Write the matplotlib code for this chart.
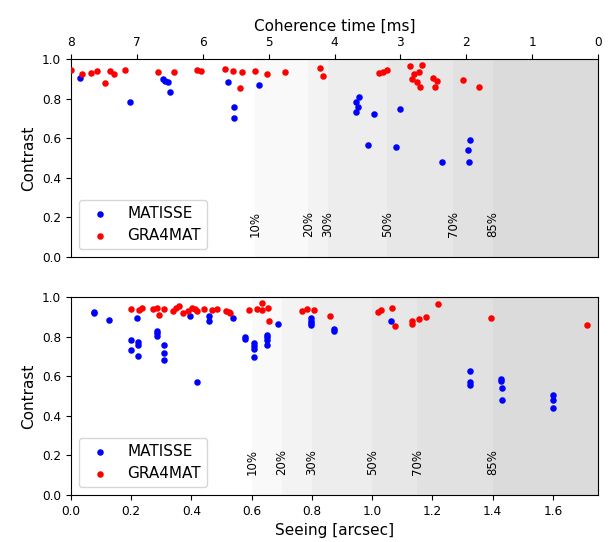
import numpy as np
import matplotlib
matplotlib.use('Agg')
import matplotlib.pyplot as plt

# percentile boundaries of the site statistics
pct_labels = ['10%', '20%', '30%', '50%', '70%', '85%']
tau_pct = [5.2, 4.4, 4.1, 3.2, 2.2, 1.6]
seeing_pct = [0.6, 0.7, 0.8, 1.0, 1.15, 1.4]

# contrast vs coherence time
tau_mat = [7.87, 7.10, 6.60, 6.57, 6.53, 6.49, 5.61, 5.52, 5.53, 5.14,
           3.63, 3.68, 3.64, 3.68, 3.40, 3.00, 3.49, 3.06, 2.37, 1.95, 1.97, 1.96]
c_tau_mat = [0.904, 0.781, 0.900, 0.890, 0.884, 0.832, 0.884, 0.759, 0.703, 0.867,
             0.809, 0.782, 0.756, 0.732, 0.720, 0.747, 0.567, 0.558, 0.481, 0.589, 0.538, 0.481]
tau_gra = [8.0, 7.84, 7.70, 7.60, 7.48, 7.41, 7.34, 7.18, 6.68, 6.43,
           6.08, 6.03, 5.66, 5.54, 5.41, 5.43, 5.20, 5.03, 4.75, 4.22,
           4.17, 3.32, 3.26, 3.20, 2.86, 2.67, 2.80, 2.72, 2.82, 2.75,
           2.71, 2.50, 2.45, 2.48, 2.05, 1.80]
c_tau_gra = [0.944, 0.924, 0.928, 0.941, 0.879, 0.939, 0.926, 0.946, 0.934, 0.933,
             0.944, 0.939, 0.948, 0.939, 0.933, 0.853, 0.939, 0.926, 0.936, 0.953,
             0.916, 0.931, 0.933, 0.944, 0.965, 0.971, 0.924, 0.936, 0.899, 0.882,
             0.857, 0.904, 0.890, 0.860, 0.894, 0.857]

# contrast vs seeing
see_mat = [0.075, 0.075, 0.127, 0.2, 0.2, 0.219, 0.224, 0.224, 0.224,
           0.286, 0.286, 0.286, 0.309, 0.309, 0.309, 0.396, 0.418, 0.458, 0.458,
           0.538, 0.579, 0.579, 0.607, 0.607, 0.607, 0.607, 0.652, 0.652, 0.652, 0.652,
           0.686, 0.796, 0.796, 0.796, 0.796, 0.874, 0.874, 1.063,
           1.326, 1.326, 1.326, 1.428, 1.428, 1.432, 1.432, 1.6, 1.6, 1.6]
c_see_mat = [0.926, 0.917, 0.885, 0.782, 0.730, 0.892, 0.771, 0.757, 0.703,
             0.830, 0.816, 0.803, 0.759, 0.718, 0.683, 0.904, 0.569, 0.902, 0.877,
             0.894, 0.799, 0.786, 0.766, 0.752, 0.738, 0.697, 0.809, 0.796, 0.782, 0.756,
             0.865, 0.892, 0.878, 0.867, 0.857, 0.838, 0.828, 0.880,
             0.626, 0.572, 0.558, 0.587, 0.577, 0.538, 0.481, 0.506, 0.479, 0.439]
see_gra = [0.2, 0.227, 0.237, 0.272, 0.286, 0.292, 0.309, 0.34, 0.349, 0.36,
           0.373, 0.388, 0.402, 0.411, 0.418, 0.442, 0.467, 0.484, 0.514, 0.523,
           0.528, 0.59, 0.619, 0.634, 0.634, 0.653, 0.657, 0.767, 0.784, 0.807,
           0.86, 1.018, 1.03, 1.065, 1.076, 1.133, 1.133, 1.156, 1.178, 1.219,
           1.396, 1.714]
c_see_gra = [0.941, 0.934, 0.943, 0.941, 0.943, 0.910, 0.938, 0.931, 0.943, 0.954,
             0.921, 0.928, 0.943, 0.938, 0.929, 0.939, 0.934, 0.941, 0.929, 0.923,
             0.917, 0.934, 0.939, 0.934, 0.971, 0.946, 0.877, 0.929, 0.941, 0.934,
             0.904, 0.924, 0.936, 0.943, 0.855, 0.879, 0.862, 0.887, 0.899, 0.963,
             0.894, 0.860]

fig = plt.figure(figsize=(6.09, 5.42), dpi=100)
ax1 = fig.add_axes([0.1166, 0.5258, 0.8654, 0.3653])
ax2 = fig.add_axes([0.1166, 0.0867, 0.8654, 0.3653])

lab_fs = 11
tick_fs = 8.7


def shade(ax, bounds, end):
    for b, lab in zip(bounds, pct_labels):
        ax.axvspan(b, end, color='k', alpha=0.022, lw=0, zorder=0)
        ax.text(b, 0.1, lab, rotation=90, ha='center', va='bottom', fontsize=8.5)


# top: coherence time
shade(ax1, tau_pct, 0)
ax1.scatter(tau_mat, c_tau_mat, s=22, color='blue', lw=0, label='MATISSE', zorder=3)
ax1.scatter(tau_gra, c_tau_gra, s=22, color='red', lw=0, label='GRA4MAT', zorder=3)
ax1.set_xlim(8, 0)
ax1.set_ylim(0, 1)
ax1.xaxis.set_ticks_position('top')
ax1.xaxis.set_label_position('top')
ax1.set_xlabel('Coherence time [ms]', fontsize=lab_fs)
ax1.set_ylabel('Contrast', fontsize=lab_fs)
ax1.tick_params(labelsize=tick_fs)
ax1.legend(loc='lower left', fontsize=lab_fs)

# bottom: seeing
shade(ax2, seeing_pct, 1.75)
ax2.scatter(see_mat, c_see_mat, s=22, color='blue', lw=0, label='MATISSE', zorder=3)
ax2.scatter(see_gra, c_see_gra, s=22, color='red', lw=0, label='GRA4MAT', zorder=3)
ax2.set_xlim(0, 1.75)
ax2.set_ylim(0, 1)
ax2.set_xlabel('Seeing [arcsec]', fontsize=lab_fs)
ax2.set_ylabel('Contrast', fontsize=lab_fs)
ax2.tick_params(labelsize=tick_fs)
ax2.legend(loc='lower left', fontsize=lab_fs)

fig.savefig('out.png', dpi=100)
